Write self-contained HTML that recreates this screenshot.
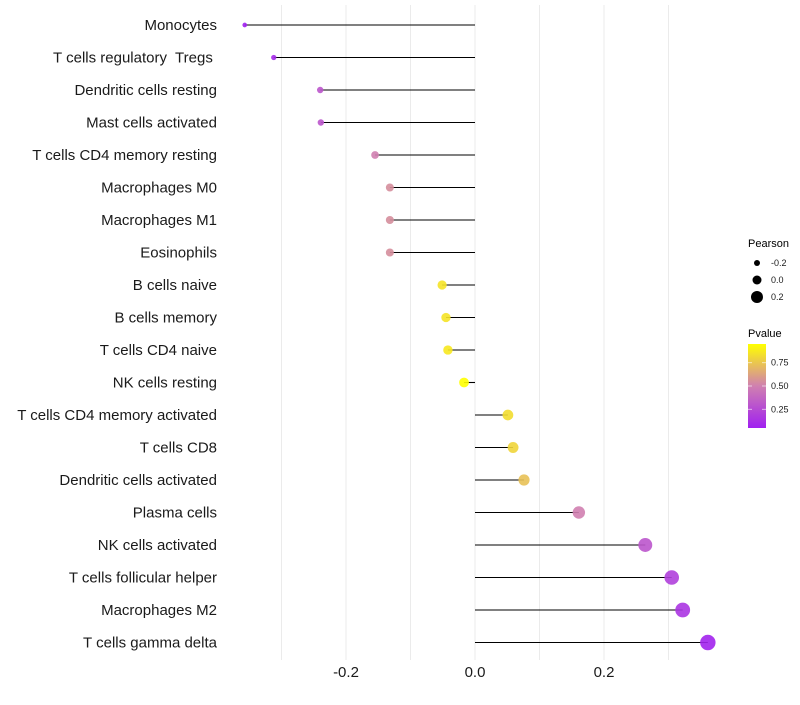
<!DOCTYPE html>
<html><head><meta charset="utf-8"><style>
body{margin:0;background:#fff;font-family:"Liberation Sans",sans-serif}
text{white-space:pre}
</style></head><body>
<svg id="chart" width="800" height="700" xmlns="http://www.w3.org/2000/svg" font-family="Liberation Sans, sans-serif">
<g id="grid"></g>
<g id="marks"></g>
<g id="ylabels"></g>
<g id="xlabels"></g>
<g id="legend"></g>
</svg>
<script>
const categories=["Monocytes","T cells regulatory  Tregs ","Dendritic cells resting","Mast cells activated","T cells CD4 memory resting","Macrophages M0","Macrophages M1","Eosinophils","B cells naive","B cells memory","T cells CD4 naive","NK cells resting","T cells CD4 memory activated","T cells CD8","Dendritic cells activated","Plasma cells","NK cells activated","T cells follicular helper","Macrophages M2","T cells gamma delta"];
const pearson=[-0.357,-0.312,-0.240,-0.239,-0.155,-0.132,-0.132,-0.132,-0.051,-0.045,-0.042,-0.017,0.051,0.059,0.076,0.161,0.264,0.305,0.322,0.361];
const pvalue=[0.05,0.1,0.3,0.3,0.5,0.55,0.55,0.55,0.85,0.85,0.87,0.95,0.83,0.8,0.73,0.5,0.3,0.2,0.15,0.07];
const xTicks=[-0.2,0.0,0.2];
const xTickLabels=["-0.2","0.0","0.2"];
const gridVals=[-0.3,-0.2,-0.1,0,0.1,0.2,0.3];
const sizeLegend=[-0.2,0.0,0.2];
const colorLegend=[0.25,0.5,0.75];

const NS="http://www.w3.org/2000/svg";
const X=v=>475+v*645;
const Y=i=>25+i*32.5;
const R=v=>5+v*7.5;
const pMin=0.05,pMax=0.95;
function lerp(a,b,t){return a+(b-a)*t}
function col(p){
  let t=(p-pMin)/(pMax-pMin);t=Math.max(0,Math.min(1,t));
  const s=[[160,32,240],[208,128,176],[255,255,0]];
  let a,b,u;
  if(t<0.5){a=s[0];b=s[1];u=t/0.5}else{a=s[1];b=s[2];u=(t-0.5)/0.5}
  return `rgb(${Math.round(lerp(a[0],b[0],u))},${Math.round(lerp(a[1],b[1],u))},${Math.round(lerp(a[2],b[2],u))})`;
}
function mk(tag,attrs,parent){const e=document.createElementNS(NS,tag);for(const k in attrs)e.setAttribute(k,attrs[k]);parent.appendChild(e);return e}
const grid=document.getElementById('grid'),marks=document.getElementById('marks'),yl=document.getElementById('ylabels'),xl=document.getElementById('xlabels'),lg=document.getElementById('legend');
gridVals.forEach(v=>{
  const l=mk('line',{x1:X(v),x2:X(v),y1:5,y2:660,stroke:'#ebebeb','stroke-width':1},grid);
  
  
});
categories.forEach((c,i)=>{
  const l=mk('line',{x1:X(0),x2:X(pearson[i]),y1:Y(i),y2:Y(i),stroke:'#000','stroke-width':1.1},marks);
  
  
  const d=mk('circle',{cx:X(pearson[i]),cy:Y(i),r:R(pearson[i]),fill:col(pvalue[i]),'fill-opacity':0.9},marks);
  
  
  const t=mk('text',{x:217,y:Y(i)+5,'text-anchor':'end','font-size':15,fill:'#1a1a1a'},yl);
  t.textContent=c;
  
  
});
xTicks.forEach((v,i)=>{
  const t=mk('text',{x:X(v),y:677,'text-anchor':'middle','font-size':15,fill:'#1a1a1a'},xl);
  t.textContent=xTickLabels[i];
  
  
});
let t=mk('text',{x:748,y:247,'font-size':11,fill:'#000'},lg);t.textContent='Pearson';


sizeLegend.forEach((v,i)=>{
  const y=263+i*17;
  const c=mk('circle',{cx:757,cy:y,r:R(v)-0.5,fill:'#000'},lg);
  
  
  const tt=mk('text',{x:771,y:y+3,'font-size':9,fill:'#1a1a1a'},lg);tt.textContent=v.toFixed(1);
  
  
});
t=mk('text',{x:748,y:337,'font-size':11,fill:'#000'},lg);t.textContent='Pvalue';


const defs=mk('defs',{},lg);
const gr=mk('linearGradient',{id:'pg',x1:0,y1:1,x2:0,y2:0},defs);
for(let k=0;k<=10;k++){mk('stop',{offset:k/10,'stop-color':col(pMin+(pMax-pMin)*k/10)},gr)}
const cb=mk('rect',{x:748,y:344,width:18,height:84,fill:'url(#pg)'},lg);


colorLegend.forEach(v=>{
  const y=344+(pMax-v)/(pMax-pMin)*84;
  mk('line',{x1:748,x2:752,y1:y,y2:y,stroke:'#fff','stroke-opacity':0.6},lg);
  mk('line',{x1:762,x2:766,y1:y,y2:y,stroke:'#fff','stroke-opacity':0.6},lg);
  const tt=mk('text',{x:771,y:y+3,'font-size':9,fill:'#1a1a1a'},lg);tt.textContent=v.toFixed(2);
  
  
});
</script>
</body></html>
